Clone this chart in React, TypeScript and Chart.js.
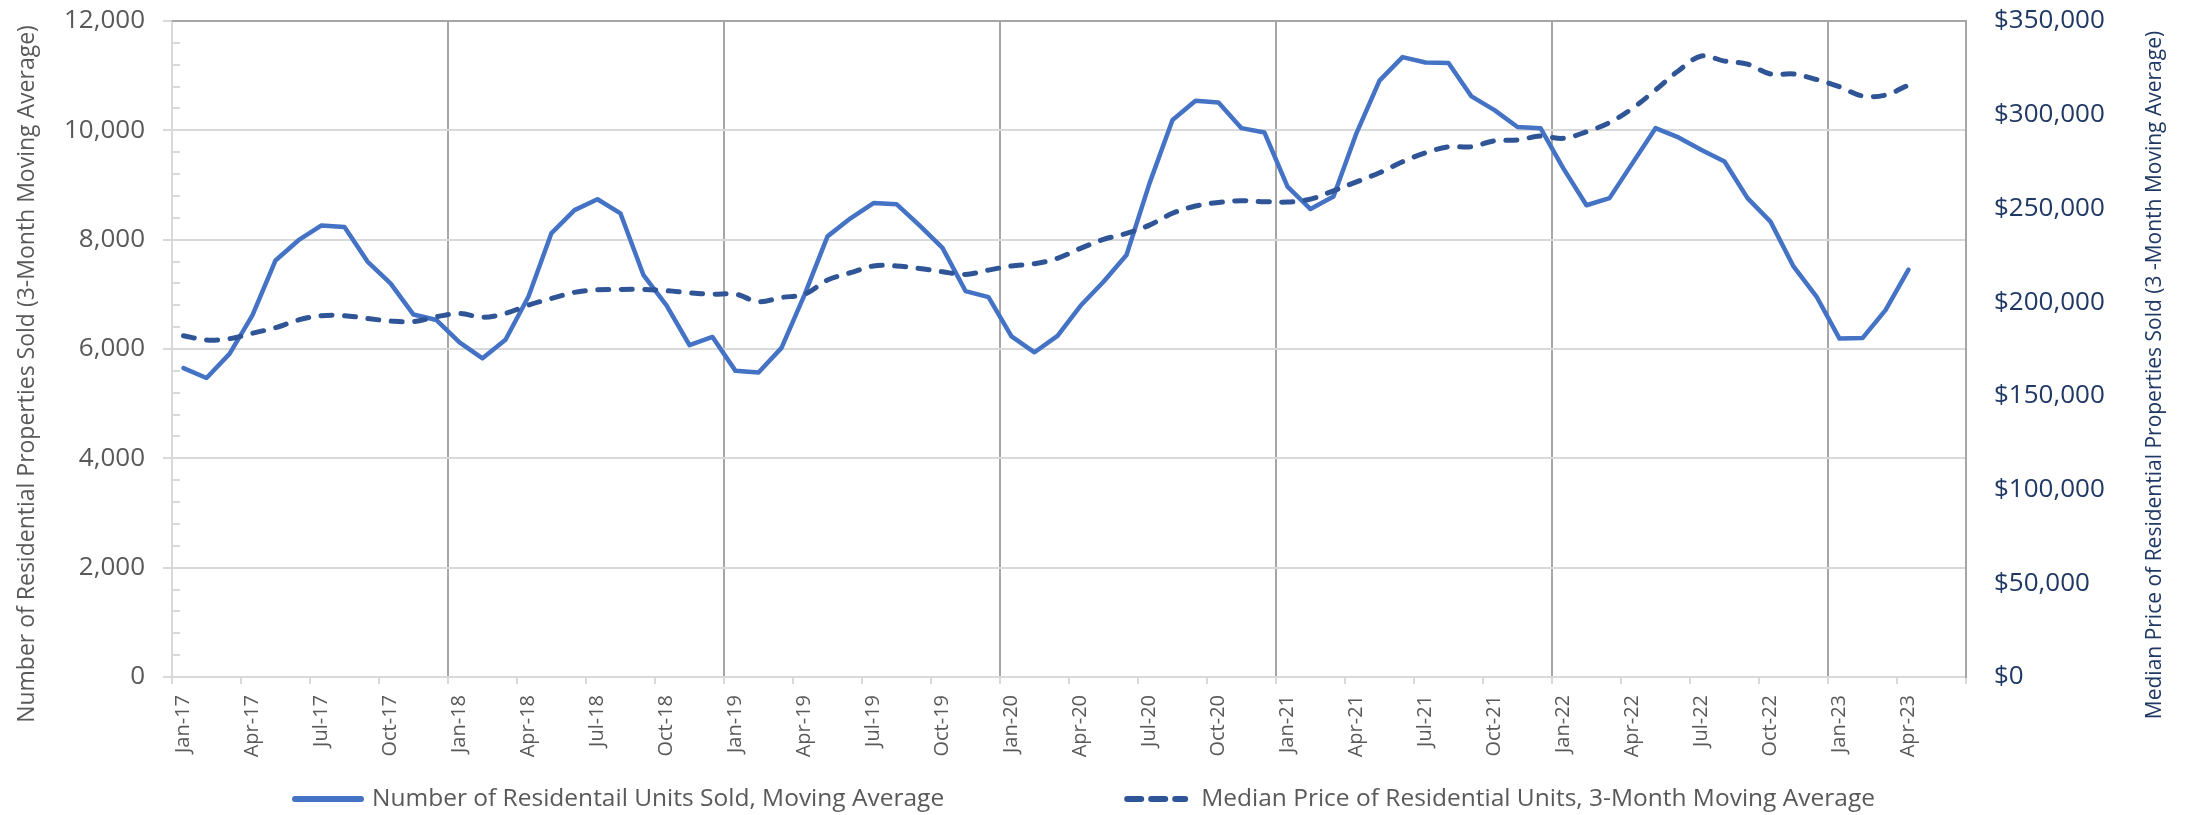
import React, { useEffect, useRef } from 'react';
import { Chart, registerables } from 'chart.js';

Chart.register(...registerables);

// Monthly categories (the axis runs one quarter past the last reported month)
const MONTH_LABELS = [
  'Jan-17', 'Feb-17', 'Mar-17', 'Apr-17', 'May-17', 'Jun-17', 'Jul-17', 'Aug-17', 'Sep-17', 'Oct-17', 'Nov-17', 'Dec-17',
  'Jan-18', 'Feb-18', 'Mar-18', 'Apr-18', 'May-18', 'Jun-18', 'Jul-18', 'Aug-18', 'Sep-18', 'Oct-18', 'Nov-18', 'Dec-18',
  'Jan-19', 'Feb-19', 'Mar-19', 'Apr-19', 'May-19', 'Jun-19', 'Jul-19', 'Aug-19', 'Sep-19', 'Oct-19', 'Nov-19', 'Dec-19',
  'Jan-20', 'Feb-20', 'Mar-20', 'Apr-20', 'May-20', 'Jun-20', 'Jul-20', 'Aug-20', 'Sep-20', 'Oct-20', 'Nov-20', 'Dec-20',
  'Jan-21', 'Feb-21', 'Mar-21', 'Apr-21', 'May-21', 'Jun-21', 'Jul-21', 'Aug-21', 'Sep-21', 'Oct-21', 'Nov-21', 'Dec-21',
  'Jan-22', 'Feb-22', 'Mar-22', 'Apr-22', 'May-22', 'Jun-22', 'Jul-22', 'Aug-22', 'Sep-22', 'Oct-22', 'Nov-22', 'Dec-22',
  'Jan-23', 'Feb-23', 'Mar-23', 'Apr-23', 'May-23', 'Jun-23',
];

// Number of residential units sold, 3-month moving average
const UNITS_SOLD = [
  5650, 5470, 5910, 6620, 7620, 7990, 8260, 8230, 7600, 7200, 6630, 6530,
  6120, 5830, 6170, 6960, 8120, 8540, 8740, 8480, 7350, 6800, 6070, 6220,
  5600, 5570, 6020, 6990, 8060, 8390, 8670, 8650, 8260, 7850, 7060, 6950,
  6230, 5940, 6240, 6790, 7230, 7720, 9030, 10190, 10540, 10510, 10040, 9960,
  8970, 8560, 8790, 9950, 10910, 11340, 11240, 11230, 10620, 10370, 10060, 10040,
  9300, 8630, 8760, 9400, 10040, 9870, 9640, 9430, 8760, 8330, 7510, 6960,
  6190, 6200, 6710, 7450, null, null,
];

// Median price of residential units, 3-month moving average
const MEDIAN_PRICE = [
  182100, 179800, 180500, 183400, 186400, 190500, 192800, 192800, 191300, 189900, 189600, 192200,
  194000, 191900, 194000, 198400, 202000, 205200, 206600, 206800, 206800, 206100, 205000, 204200,
  204300, 200200, 202500, 204200, 211800, 215700, 219300, 219300, 218000, 216200, 214800, 217100,
  219300, 220500, 223400, 228700, 233500, 236700, 241100, 247400, 251300, 253200, 254100, 253600,
  253400, 255000, 259400, 264200, 269000, 274900, 279700, 282900, 282900, 286100, 286500, 288600,
  287400, 290900, 295800, 303400, 313200, 323500, 331300, 328600, 327000, 321700, 321700, 318800,
  314900, 310000, 310500, 315800, null, null,
];

const UNITS_AXIS = { min: 0, max: 12000, step: 2000, minorStep: 400 };
const PRICE_AXIS = { min: 0, max: 350000, step: 50000 };

const SERIES_NAMES = [
  'Number of Residentail Units Sold, Moving Average',
  'Median Price of Residential Units, 3-Month Moving Average',
];
const LEFT_TITLE = 'Number of Residential Properties Sold (3-Month Moving Average)';
const RIGHT_TITLE = 'Median Price of Residential Properties Sold (3 -Month Moving Average)';

const FONT = '"Open Sans", "Noto Sans", sans-serif';
const GREY_TEXT = '#595959';
const NAVY = '#1F3864';
const SOLID_BLUE = '#4472C4';
const DASH_BLUE = '#2F5597';
const LIGHT_RULE = '#D9D9D9';
const DARK_RULE = '#A6A6A6';

const W = 2186;
const H = 815;
const PLOT = { left: 172, right: 1966, top: 21, bottom: 677 };

const clearPadding = (scale: any) => {
  scale.paddingTop = 0;
  scale.paddingBottom = 0;
  scale.paddingLeft = 0;
  scale.paddingRight = 0;
};

// Frame, minor ticks, axis titles and the legend row
const decorations = {
  id: 'decorations',
  beforeDatasetsDraw(chart: any) {
    const { ctx, chartArea } = chart;
    const y = chart.scales.y;
    ctx.save();
    ctx.strokeStyle = LIGHT_RULE;
    ctx.lineWidth = 2;
    for (let v = UNITS_AXIS.min + UNITS_AXIS.minorStep; v < UNITS_AXIS.max; v += UNITS_AXIS.minorStep) {
      if (v % UNITS_AXIS.step === 0) continue;
      const py = Math.round(y.getPixelForValue(v));
      ctx.beginPath();
      ctx.moveTo(chartArea.left, py);
      ctx.lineTo(chartArea.left + 8, py);
      ctx.stroke();
    }
    ctx.strokeStyle = DARK_RULE;
    ctx.beginPath();
    ctx.moveTo(chartArea.left, chartArea.top);
    ctx.lineTo(chartArea.right, chartArea.top);
    ctx.stroke();
    ctx.restore();
  },
  afterDraw(chart: any) {
    const { ctx } = chart;
    ctx.save();
    ctx.textAlign = 'center';
    ctx.textBaseline = 'middle';

    ctx.font = `23px ${FONT}`;
    ctx.fillStyle = GREY_TEXT;
    ctx.save();
    ctx.translate(27, 374);
    ctx.rotate(-Math.PI / 2);
    ctx.fillText(LEFT_TITLE, 0, 0);
    ctx.restore();

    ctx.font = `21px ${FONT}`;
    ctx.fillStyle = NAVY;
    ctx.save();
    ctx.translate(2155, 375);
    ctx.rotate(-Math.PI / 2);
    ctx.fillText(RIGHT_TITLE, 0, 0);
    ctx.restore();

    // Legend
    const ly = 799;
    ctx.font = `24.5px ${FONT}`;
    ctx.textAlign = 'left';
    ctx.fillStyle = GREY_TEXT;
    const w1 = ctx.measureText(SERIES_NAMES[0]).width;
    const s1 = 72, g1 = 8, gap = 180, s2 = 64, g2 = 13;
    let x = 292;

    ctx.lineCap = 'round';
    ctx.lineWidth = 6;
    ctx.strokeStyle = SOLID_BLUE;
    ctx.beginPath();
    ctx.moveTo(x + 3, ly);
    ctx.lineTo(x + s1 - 3, ly);
    ctx.stroke();
    x += s1 + g1;
    ctx.fillText(SERIES_NAMES[0], x, ly);
    x += w1 + gap;

    ctx.strokeStyle = DASH_BLUE;
    ctx.setLineDash([14, 10]);
    ctx.beginPath();
    ctx.moveTo(x + 3, ly);
    ctx.lineTo(x + s2 - 3, ly);
    ctx.stroke();
    ctx.setLineDash([]);
    x += s2 + g2;
    ctx.fillText(SERIES_NAMES[1], x, ly);
    ctx.restore();
  },
};

export default function App() {
  const canvasRef = useRef<HTMLCanvasElement | null>(null);

  useEffect(() => {
    const canvas = canvasRef.current;
    if (!canvas) return;
    const chart = new Chart(canvas, {
      type: 'line',
      data: {
        labels: MONTH_LABELS,
        datasets: [
          {
            label: SERIES_NAMES[0],
            data: UNITS_SOLD,
            yAxisID: 'y',
            borderColor: SOLID_BLUE,
            backgroundColor: SOLID_BLUE,
            borderWidth: 4.5,
            pointRadius: 0,
            tension: 0,
            borderJoinStyle: 'round',
            borderCapStyle: 'round',
            order: 1,
          },
          {
            label: SERIES_NAMES[1],
            data: MEDIAN_PRICE,
            yAxisID: 'y1',
            borderColor: DASH_BLUE,
            backgroundColor: DASH_BLUE,
            borderWidth: 5,
            borderDash: [11, 12.5],
            borderCapStyle: 'round',
            pointRadius: 0,
            tension: 0.35,
            order: 0,
          },
        ],
      },
      options: {
        responsive: false,
        animation: false,
        devicePixelRatio: 1,
        layout: { padding: { top: PLOT.top, left: 0, right: 0, bottom: 0 } },
        plugins: {
          legend: { display: false },
          tooltip: { enabled: false },
        },
        scales: {
          x: {
            type: 'category',
            offset: true,
            grid: {
              offset: true,
              lineWidth: 2,
              tickLength: 7,
              color: (c: any) =>
                c.index !== undefined && c.index > 0 && c.index % 12 === 0 ? DARK_RULE : 'rgba(0,0,0,0)',
              tickColor: (c: any) =>
                c.index === undefined || c.index % 3 === 0 ? LIGHT_RULE : 'rgba(0,0,0,0)',
            },
            border: { display: true, color: LIGHT_RULE, width: 2 },
            ticks: {
              autoSkip: false,
              minRotation: 90,
              maxRotation: 90,
              padding: 11,
              color: GREY_TEXT,
              font: { family: FONT, size: 20 },
              callback: (_v: any, i: number) => (i % 3 === 0 ? MONTH_LABELS[i] : ''),
            },
            afterFit: (scale: any) => {
              scale.height = H - PLOT.bottom;
              clearPadding(scale);
            },
          },
          y: {
            position: 'left',
            min: UNITS_AXIS.min,
            max: UNITS_AXIS.max,
            grid: {
              color: LIGHT_RULE,
              lineWidth: 2,
              tickLength: 9,
              tickColor: LIGHT_RULE,
            },
            border: { display: true, color: LIGHT_RULE, width: 2 },
            ticks: {
              stepSize: UNITS_AXIS.step,
              padding: 18,
              color: GREY_TEXT,
              font: { family: FONT, size: 26 },
              callback: (v: any) => Number(v).toLocaleString('en-US'),
            },
            afterFit: (scale: any) => {
              scale.width = PLOT.left;
              clearPadding(scale);
            },
          },
          y1: {
            position: 'right',
            min: PRICE_AXIS.min,
            max: PRICE_AXIS.max,
            grid: { drawOnChartArea: false, drawTicks: false },
            border: { display: true, color: DARK_RULE, width: 2 },
            ticks: {
              stepSize: PRICE_AXIS.step,
              padding: 28,
              color: NAVY,
              font: { family: FONT, size: 26 },
              callback: (v: any) => '$' + Number(v).toLocaleString('en-US'),
            },
            afterFit: (scale: any) => {
              scale.width = W - PLOT.right;
              clearPadding(scale);
            },
          },
        },
      },
      plugins: [decorations],
    });
    return () => chart.destroy();
  }, []);

  return (
    <div style={{ position: 'fixed', left: 0, top: 0, width: W, height: H, background: '#fff' }}>
      <canvas ref={canvasRef} width={W} height={H} style={{ display: 'block', width: W, height: H }} />
    </div>
  );
}
